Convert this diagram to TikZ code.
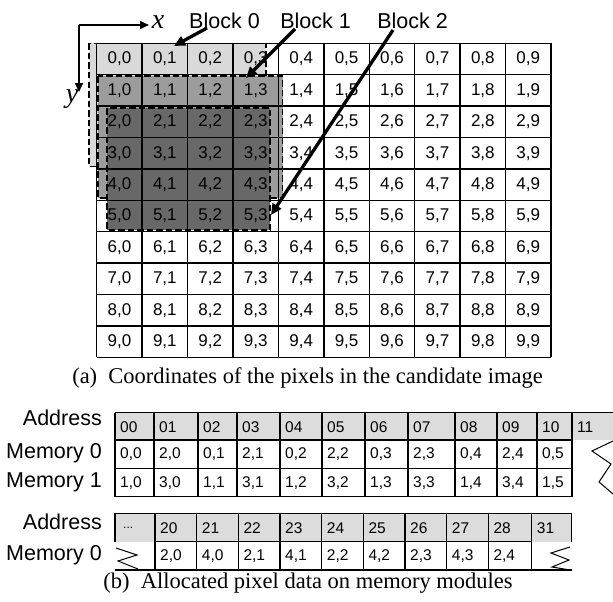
\documentclass[tikz,border=0pt]{standalone}
\usepackage{fontspec}
\setmainfont{Liberation Sans}
\newfontfamily\seriffont{Liberation Serif}
\usetikzlibrary{arrows.meta}
\definecolor{gA}{HTML}{D9D9D9}
\definecolor{gB}{HTML}{9C9C9C}
\definecolor{gC}{HTML}{686868}
\definecolor{gH}{HTML}{DCDCDC}
\tikzset{
  cell/.style={font=\fontsize{17}{17}\selectfont, inner sep=0pt},
  tcell/.style={font=\fontsize{15.5}{15.5}\selectfont, anchor=west, inner sep=0pt},
  lbl/.style={font=\fontsize{21.5}{21.5}\selectfont, anchor=east, inner sep=0pt},
  blk/.style={font=\fontsize{21.5}{21.5}\selectfont, inner sep=0pt},
  captext/.style={font=\seriffont\fontsize{22.5}{22.5}\selectfont, inner sep=0pt},
  axis/.style={font=\seriffont\itshape\fontsize{28}{28}\selectfont, inner sep=0pt},
  dashbox/.style={draw=black, dash pattern=on 6.5pt off 3pt, line width=1.8pt},
  gridline/.style={line width=1.3pt},
  tline/.style={line width=1.1pt},
  zig/.style={line width=1pt},
  blkarrow/.style={line width=3.3pt, -{Triangle[length=11pt,width=10pt]}},
  axarrow/.style={line width=2.2pt, -{Triangle[length=9pt,width=8pt]}}
}
\begin{document}
\begin{tikzpicture}[x=1pt,y=-1pt]
\useasboundingbox (0,0) rectangle (613,602);
\fill[white] (0,0) rectangle (613,602);
% blocks
\path[fill=gA, dashbox] (89,43.5) rectangle (266,166.5);
\path[fill=gB, dashbox] (98,76) rectangle (282.5,198);
\path[fill=gC, dashbox] (107,108) rectangle (270,230);
% grid
\foreach \i in {0,...,10} {
  \draw[gridline] ({96.7+45.43*\i},43.3) -- ({96.7+45.43*\i},357.3);
  \draw[gridline] (96.7,{43.3+31.4*\i}) -- (551,{43.3+31.4*\i});
}
\foreach \r in {0,...,9} {
  \foreach \c in {0,...,9} {
    \node[cell] (p-\r-\c) at ({96.7+45.43*(\c+0.5)},{43.3+31.4*(\r+0.5)}) {\r,\c};
  }
}
% axes
\coordinate (o) at (79,25);
\coordinate (xe) at (149,25);
\coordinate (ye) at (79,92);
\draw[axarrow] (o) -- (xe);
\draw[axarrow] (o) -- (ye);
\node[axis] (xl) at (158,22) {x};
\node[axis] (yl) at (72,99) {y};
% block labels
\node[blk] (b0) at (224.5,21) {Block 0};
\node[blk] (b1) at (315.5,21) {Block 1};
\node[blk] (b2) at (412.5,21) {Block 2};
\coordinate (b0s) at (207,28);
\coordinate (b0t) at (174,46);
\coordinate (b1s) at (295,29);
\coordinate (b1t) at (246,78);
\coordinate (b2s) at (393,30);
\coordinate (b2t) at (271,215);
\draw[blkarrow] (b0s) -- (b0t);
\draw[blkarrow] (b1s) -- (b1t);
\draw[blkarrow] (b2s) -- (b2t);
% caption a
\node[captext] (capa) at (307.5,378) {(a)\hspace{0.5em}Coordinates of the pixels in the candidate image};
% top memory table
\fill[gH] (115,412.7) rectangle (613,440);
\draw[tline] (115,412.7) -- (613,412.7);
\draw[tline] (115,440) -- (572,440);
\draw[tline] (115,468.3) -- (572,468.3);
\draw[tline] (115,496.7) -- (572,496.7);
\foreach \x in {115,154,198,237,280,322,365,408,455,497,537,572} {
  \draw[tline] (\x,412.7) -- (\x,496.7);
}
\foreach \x/\h/\m/\n [count=\k] in {115/00/{0,0}/{1,0}, 154/01/{2,0}/{3,0}, 198/02/{0,1}/{1,1}, 237/03/{2,1}/{3,1}, 280/04/{0,2}/{1,2}, 322/05/{2,2}/{3,2}, 365/06/{0,3}/{1,3}, 408/07/{2,3}/{3,3}, 455/08/{0,4}/{1,4}, 497/09/{2,4}/{3,4}, 537/10/{0,5}/{1,5}} {
  \node[tcell] (ha-\k) at (\x+5,427) {\h};
  \node[tcell] (ma-\k) at (\x+5,454.5) {\m};
  \node[tcell] (na-\k) at (\x+5,483) {\n};
}
\node[tcell] (ha-12) at (577,427) {11};
\draw[zig] (613,441) -- (592,451) -- (611,464) -- (599,482) -- (613,494);
\node[lbl] (addra) at (102,418) {Address};
\node[lbl] (mem0a) at (102,453) {Memory 0};
\node[lbl] (mem1a) at (102,482) {Memory 1};
% bottom memory table
\fill[gH] (115,513.3) rectangle (571.7,541.7);
\draw[tline] (115,513.3) -- (571.7,513.3);
\draw[tline] (155,541.7) -- (531.7,541.7);
\draw[tline] (115,570) -- (571.7,570);
\draw[tline] (115,513.3) -- (115,541.7);
\draw[tline] (571.7,513.3) -- (571.7,541.7);
\foreach \x in {155,196.7,238.3,280,321.7,363.3,405,446.7,488.3,531.7} {
  \draw[tline] (\x,513.3) -- (\x,570);
}
\node[tcell, font=\fontsize{12}{12}\selectfont] (hb-0) at (123,527.5) {...};
\foreach \x/\h/\m [count=\k] in {155/20/{2,0}, 196.7/21/{4,0}, 238.3/22/{2,1}, 280/23/{4,1}, 321.7/24/{2,2}, 363.3/25/{4,2}, 405/26/{2,3}, 446.7/27/{4,3}, 488.3/28/{2,4}} {
  \node[tcell] (hb-\k) at (\x+5,528) {\h};
  \node[tcell] (mb-\k) at (\x+5,556) {\m};
}
\node[tcell] (hb-10) at (536.7,528) {31};
\draw[zig] (116,548) -- (137,555) -- (118,561) -- (138,569);
\draw[zig] (570,547) -- (551,553) -- (569,560) -- (552,567) -- (570,570);
\node[lbl] (addrb) at (102,521.5) {Address};
\node[lbl] (mem0b) at (102,555) {Memory 0};
% caption b
\node[captext] (capb) at (308,583) {(b)\hspace{0.5em}Allocated pixel data on memory modules};
\end{tikzpicture}
\end{document}
